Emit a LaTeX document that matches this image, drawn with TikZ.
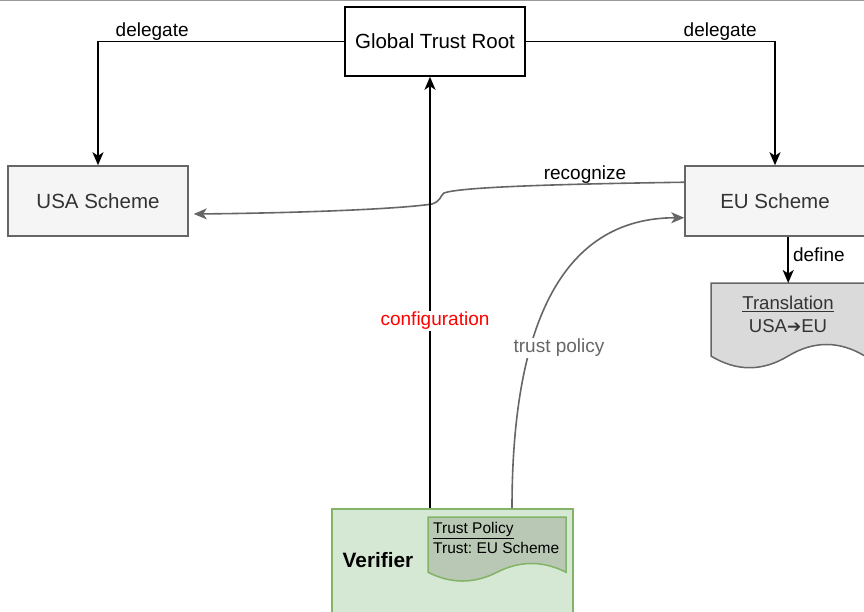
\documentclass[tikz,border=0pt]{standalone}
\usepackage{fontspec}
\setmainfont{Liberation Sans}
\newfontfamily\symfont{DejaVu Sans}
\usetikzlibrary{arrows.meta,calc}
\frenchspacing

\definecolor{schemefill}{HTML}{F5F5F5}
\definecolor{schemeline}{HTML}{666666}
\definecolor{schemetext}{HTML}{333333}
\definecolor{docfill}{HTML}{DADADA}
\definecolor{verfill}{HTML}{D5E8D4}
\definecolor{verline}{HTML}{82B366}
\definecolor{policyfill}{HTML}{B9C8B4}
\definecolor{softgray}{HTML}{666666}

% document shape with a wavy bottom edge: style, x, y (top left), width, height
\newcommand\docshape[5]{%
  \pgfmathsetmacro\docdy{#5*0.3}%
  \draw[#1] (#2,#3) -- ({#2+#4},#3) -- ({#2+#4},{#3+#5-0.5*\docdy})
    .. controls ({#2+5*#4/6},{#3+#5-1.1*\docdy}) and ({#2+2*#4/3},{#3+#5-1.1*\docdy})
    .. ({#2+#4/2},{#3+#5-0.5*\docdy})
    .. controls ({#2+#4/3},{#3+#5+0.1*\docdy}) and ({#2+#4/6},{#3+#5+0.1*\docdy})
    .. (#2,{#3+#5-0.5*\docdy}) -- cycle;}

\tikzset{
  every node/.style={font=\fontsize{19}{23}\selectfont, inner sep=0pt},
  boxtext/.style={font=\fontsize{20.5}{24}\selectfont},
  rootbox/.style={boxtext, draw=black, fill=white, line width=1.5pt,
    minimum width=180pt, minimum height=69pt},
  schemebox/.style={boxtext, draw=schemeline, fill=schemefill, text=schemetext,
    line width=1.5pt, minimum width=180pt, minimum height=70pt},
  link/.style={line width=1.6pt, -{Stealth[length=13pt,width=11pt,inset=3.5pt]}},
  softlink/.style={link, draw=softgray},
  edgelabel/.style={fill=white, inner sep=1.5pt},
}

\begin{document}
\begin{tikzpicture}[x=1pt,y=-1pt]
\useasboundingbox (0,0) rectangle (864,612);
\clip (0,0) rectangle (864,612);

% frame line along the top
\draw[draw=black!40, line width=1.6pt] (0,0.6) -- (864,0.6);

% main boxes
\node[rootbox] (gtr) at (435,41.5) {Global Trust Root};
\node[schemebox] (usa) at (98,201) {USA Scheme};
\node[schemebox] (eu) at (775,201) {EU Scheme};

% translation document
\node[minimum width=154pt, minimum height=86pt, anchor=north west] (trans) at (711,283) {};
\docshape{draw=schemeline, fill=docfill, line width=1.5pt}{711}{283}{154}{86}
\node[text=schemetext, align=center, font=\fontsize{18.6}{23}\selectfont] (transtext) at (788,314)
  {\underline{Translation}\\USA{\symfont\fontsize{17}{17}\selectfont ➔}EU};

% verifier with its trust policy
\node[draw=verline, fill=verfill, line width=1.5pt, minimum width=241pt,
  minimum height=130pt, anchor=north west] (ver) at (331,508) {};
\node[font=\bfseries\fontsize{20.8}{24}\selectfont] (verlabel) at (378,560) {Verifier};
\docshape{draw=verline, fill=policyfill, line width=1.5pt}{428}{517}{138}{65}
\node[anchor=north west, align=left, font=\fontsize{15.5}{20}\selectfont] (policy)
  at (433,522) {\underline{Trust Policy}\\Trust: EU Scheme};

% column positions of the vertical connectors
\coordinate (cfgx) at (430,0);
\coordinate (tpx) at (512,0);

% delegation from the root
\draw[link] (gtr.west) -| node[pos=0.39, anchor=base, yshift=4.5pt] (dl) {delegate} (usa.north);
\draw[link] (gtr.east) -| node[pos=0.39, anchor=base, yshift=4.5pt] (dr) {delegate} (eu.north);

% recognition of the USA scheme by the EU scheme
\draw[softlink] ($(eu.north west)+(0,17)$)
  .. controls (560,184) and (460,187) .. (444,193)
  .. controls (440,196) and (441,201) .. (432,204)
  .. controls (400,209) and (300,213) .. ($(usa.east)+(5,13)$);
\node (rec) at (585,175) {recognize};

% configuration link
\draw[link] (ver.north -| cfgx) -- (gtr.south -| cfgx);
\node[edgelabel, text=red] (cfg) at (435,321) {configuration};

% trust policy link
\draw[softlink] (ver.north -| tpx) .. controls +(0,-178) and +(-125,0)
  .. ($(eu.south west)+(0,-19)$);
\node[edgelabel, text=softgray] (tp) at (559,348) {trust policy};

% definition of the translation
\draw[link] (trans.north |- eu.south) -- node[pos=0.38, anchor=west, xshift=4pt] (def) {define} (trans.north);
\end{tikzpicture}
\end{document}
